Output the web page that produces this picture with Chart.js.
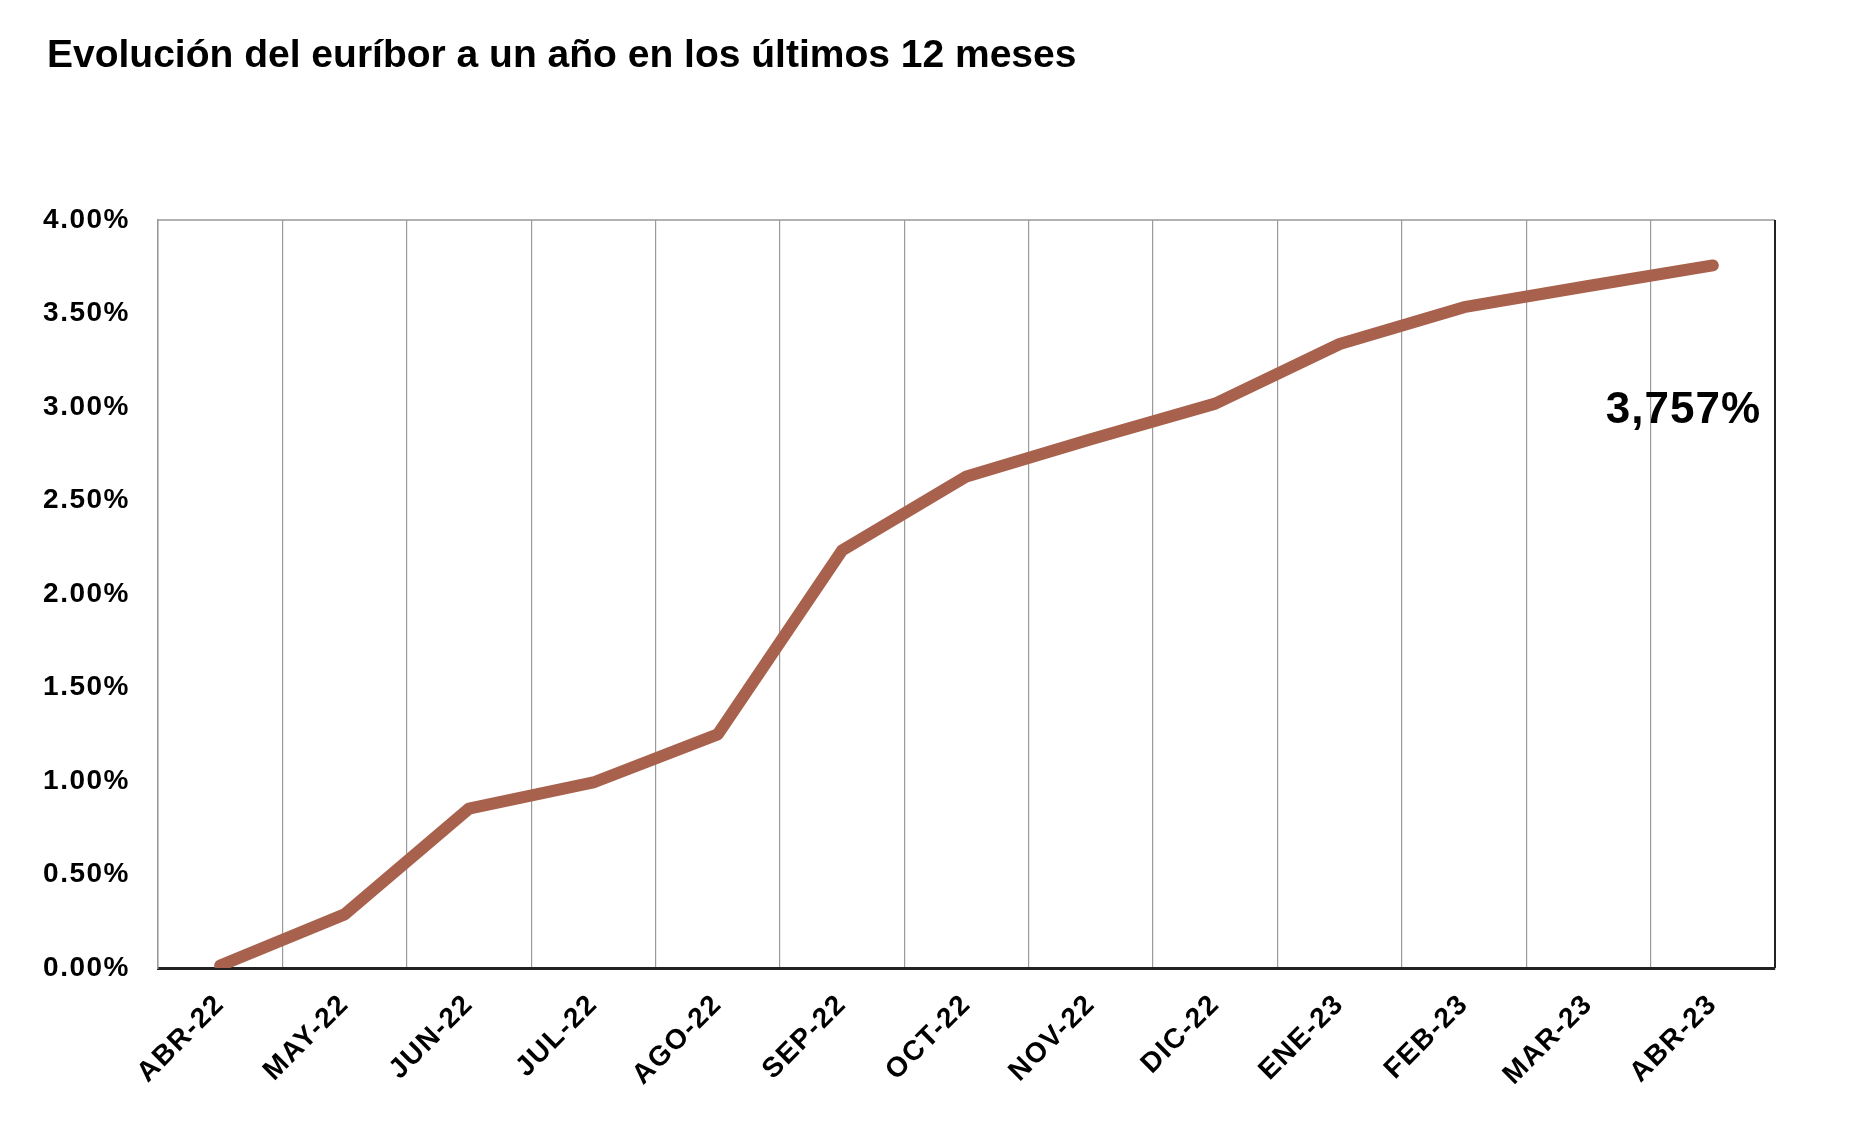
<!DOCTYPE html>
<html>
<head>
<meta charset="utf-8">
<script src="https://cdn.jsdelivr.net/npm/chart.js@4.4.0/dist/chart.umd.min.js"></script>
<style>
  html, body { margin: 0; padding: 0; background: #fff; }
  #wrap { width: 1858px; height: 1122px; position: relative; }
</style>
</head>
<body>
<div id="wrap"><canvas id="euriborChart"></canvas></div>
<script>
const TITLE = 'Evolución del euríbor a un año en los últimos 12 meses';
const MONTHS = ['ABR-22', 'MAY-22', 'JUN-22', 'JUL-22', 'AGO-22', 'SEP-22', 'OCT-22',
                'NOV-22', 'DIC-22', 'ENE-23', 'FEB-23', 'MAR-23', 'ABR-23'];
const EURIBOR = [0.013, 0.287, 0.852, 0.992, 1.249, 2.233, 2.629, 2.828, 3.018, 3.337, 3.534, 3.647, 3.757];
const Y_TICKS = [0, 0.5, 1, 1.5, 2, 2.5, 3, 3.5, 4];
const LAST_LABEL = '3,757%';

const LINE_COLOR = '#a8614c';
const FONT = '"Liberation Sans", Arial, Helvetica, sans-serif';

// title, top/right frame and the value label
const extras = {
    id: 'extras',
    beforeUpdate(chart) {
        chart.ctx.letterSpacing = '1.5px';
    },
    beforeDraw(chart) {
        const ctx = chart.ctx;
        ctx.save();
        ctx.letterSpacing = '0px';
        ctx.fillStyle = '#000';
        ctx.font = 'bold 39px ' + FONT;
        ctx.textBaseline = 'middle';
        ctx.textAlign = 'left';
        ctx.fillText(TITLE, 47, 56);
        ctx.restore();
    },
    afterDatasetsDraw(chart) {
        const ctx = chart.ctx;
        const a = chart.chartArea;
        ctx.save();
        ctx.strokeStyle = '#999';
        ctx.lineWidth = 1.5;
        ctx.beginPath();
        ctx.moveTo(a.left, a.top);
        ctx.lineTo(a.right, a.top);
        ctx.stroke();
        ctx.strokeStyle = '#222';
        ctx.lineWidth = 2;
        ctx.beginPath();
        ctx.moveTo(a.right, a.top);
        ctx.lineTo(a.right, a.bottom);
        ctx.stroke();

        const y = chart.scales.y.getPixelForValue(2.98);
        ctx.letterSpacing = '1px';
        ctx.fillStyle = '#000';
        ctx.font = 'bold 44px ' + FONT;
        ctx.textAlign = 'right';
        ctx.textBaseline = 'middle';
        ctx.fillText(LAST_LABEL, a.right - 14, y);
        ctx.restore();
    }
};

new Chart(document.getElementById('euriborChart'), {
    type: 'line',
    data: {
        labels: MONTHS,
        datasets: [{
            data: EURIBOR,
            borderColor: LINE_COLOR,
            borderWidth: 12,
            borderCapStyle: 'round',
            borderJoinStyle: 'round',
            pointRadius: 0,
            tension: 0,
            fill: false
        }]
    },
    options: {
        responsive: true,
        maintainAspectRatio: false,
        animation: false,
        layout: { padding: { top: 220, right: 83, bottom: 0, left: 0 } },
        plugins: {
            legend: { display: false },
            tooltip: { enabled: false }
        },
        scales: {
            x: {
                offset: true,
                grid: {
                    offset: true,
                    color: '#9a9a9a',
                    lineWidth: 1.2,
                    drawTicks: false
                },
                border: { color: '#222', width: 3 },
                ticks: {
                    color: '#000',
                    font: { family: FONT, size: 28, weight: 'bold' },
                    minRotation: 45,
                    maxRotation: 45,
                    padding: 20,
                    autoSkip: false
                },
                afterFit(scale) { scale.height = 154; }
            },
            y: {
                min: 0,
                max: 4,
                afterBuildTicks(scale) {
                    scale.ticks = Y_TICKS.map(v => ({ value: v }));
                },
                grid: { display: false },
                border: { color: '#999', width: 1.5 },
                ticks: {
                    color: '#000',
                    font: { family: FONT, size: 28, weight: 'bold' },
                    padding: 20,
                    callback: v => v.toFixed(2) + '%'
                },
                afterFit(scale) { scale.width = 158; }
            }
        }
    },
    plugins: [extras]
});
</script>
</body>
</html>
